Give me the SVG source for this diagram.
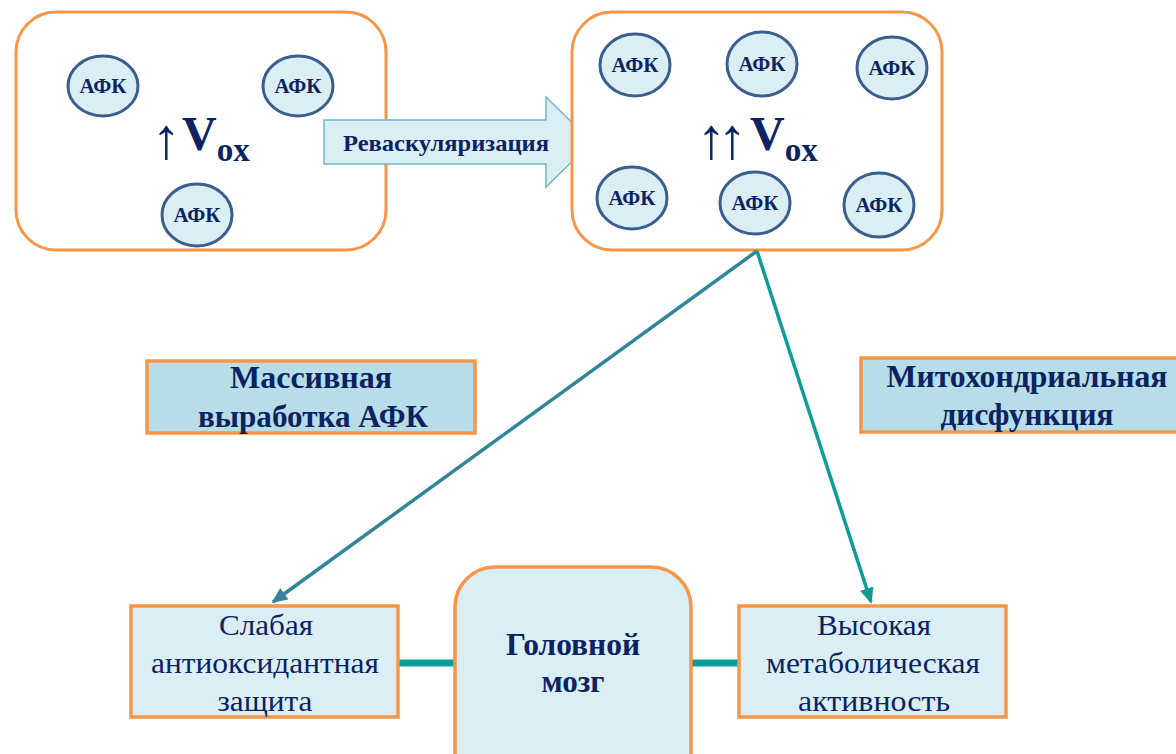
<svg xmlns="http://www.w3.org/2000/svg" width="1176" height="754" viewBox="0 0 1176 754">
<defs>
<style>
.big{fill:#fff;stroke:#F79646;stroke-width:3}
.afk ellipse{fill:#DBEEF4;stroke:#3A5F8E;stroke-width:3}
.afk text{font-family:"Liberation Serif","DejaVu Serif",serif;font-weight:bold;font-size:20px;fill:#0B2362;text-anchor:middle}
.t{font-family:"Liberation Serif","DejaVu Serif",serif;fill:#0B2362;text-anchor:middle}
.b{font-weight:bold}
.box{fill:#DBEEF4;stroke:#F79646;stroke-width:3.5}
.lbl{fill:#B7DDE8;stroke:#F79646;stroke-width:3.5}
.up{font-family:"Liberation Serif","DejaVu Serif",serif;fill:#0B2362;font-size:58px}
</style>
<marker id="ah1" markerWidth="4.5" markerHeight="4" refX="4" refY="2" orient="auto" markerUnits="strokeWidth">
<path d="M0,0 L4.5,2 L0,4 z" fill="#31849B"/>
</marker>
<marker id="ah2" markerWidth="4.5" markerHeight="4" refX="4" refY="2" orient="auto" markerUnits="strokeWidth">
<path d="M0,0 L4.5,2 L0,4 z" fill="#0E9C98"/>
</marker>
</defs>
<rect width="1176" height="754" fill="#fff"/>

<g id="left-box">
<rect class="big" x="16" y="12" width="370" height="238" rx="40"/>
<g class="afk"><ellipse cx="103" cy="86" rx="35" ry="30"/><text x="103" y="93" textLength="47" lengthAdjust="spacingAndGlyphs">АФК</text></g>
<g class="afk"><ellipse cx="298" cy="86" rx="35" ry="30"/><text x="298" y="93" textLength="47" lengthAdjust="spacingAndGlyphs">АФК</text></g>
<g class="afk"><ellipse cx="197" cy="215" rx="35" ry="31"/><text x="197" y="222" textLength="47" lengthAdjust="spacingAndGlyphs">АФК</text></g>
<text class="up" x="152" y="158">↑</text>
<text class="t b" x="182" y="150" style="text-anchor:start;font-size:48px">V<tspan dy="11" font-size="33">ox</tspan></text>
</g>

<g id="revasc">
<path d="M324,120 L546,120 L546,97 L592,142 L546,187 L546,164 L324,164 Z" fill="#DAEEF3" stroke="#6FB7C6" stroke-width="1.5"/>
<text class="t b" x="446" y="151" font-size="24" textLength="206" lengthAdjust="spacingAndGlyphs">Реваскуляризация</text>
</g>

<g id="right-box">
<rect class="big" x="572" y="12" width="370" height="238" rx="40"/>
<g class="afk"><ellipse cx="635" cy="65" rx="35" ry="31"/><text x="635" y="72" textLength="47" lengthAdjust="spacingAndGlyphs">АФК</text></g>
<g class="afk"><ellipse cx="762" cy="64" rx="35" ry="32"/><text x="762" y="71" textLength="47" lengthAdjust="spacingAndGlyphs">АФК</text></g>
<g class="afk"><ellipse cx="892" cy="68" rx="35" ry="31"/><text x="892" y="75" textLength="47" lengthAdjust="spacingAndGlyphs">АФК</text></g>
<g class="afk"><ellipse cx="632" cy="198" rx="35" ry="31"/><text x="632" y="205" textLength="47" lengthAdjust="spacingAndGlyphs">АФК</text></g>
<g class="afk"><ellipse cx="755" cy="203" rx="35" ry="31"/><text x="755" y="210" textLength="47" lengthAdjust="spacingAndGlyphs">АФК</text></g>
<g class="afk"><ellipse cx="879" cy="205" rx="35" ry="32"/><text x="879" y="212" textLength="47" lengthAdjust="spacingAndGlyphs">АФК</text></g>
<text class="up" x="697" y="158" textLength="50" lengthAdjust="spacing">↑↑</text>
<text class="t b" x="750" y="150" style="text-anchor:start;font-size:48px">V<tspan dy="11" font-size="33">ox</tspan></text>
</g>

<g id="massive">
<rect class="lbl" x="147" y="361" width="328" height="72"/>
<text class="t b" x="311" y="388" font-size="31" textLength="162" lengthAdjust="spacingAndGlyphs">Массивная</text>
<text class="t b" x="313" y="427" font-size="31" textLength="230" lengthAdjust="spacingAndGlyphs">выработка АФК</text>
</g>

<g id="mito">
<rect class="lbl" x="861" y="358" width="334" height="74"/>
<text class="t b" x="1027" y="387" font-size="31" textLength="281" lengthAdjust="spacingAndGlyphs">Митохондриальная</text>
<text class="t b" x="1027" y="425" font-size="31" textLength="173" lengthAdjust="spacingAndGlyphs">дисфункция</text>
</g>

<g id="connectors">
<line x1="398" y1="663" x2="455" y2="663" stroke="#0E9C98" stroke-width="7"/>
<line x1="691" y1="663" x2="739" y2="663" stroke="#0E9C98" stroke-width="7"/>
<line x1="757" y1="251" x2="273" y2="602" stroke="#31849B" stroke-width="3.5" marker-end="url(#ah1)"/>
<line x1="757" y1="251" x2="871" y2="602" stroke="#0E9C98" stroke-width="3.5" marker-end="url(#ah2)"/>
</g>

<g id="weak">
<rect class="box" x="131" y="606" width="267" height="111"/>
<text class="t" x="266" y="635" font-size="30" textLength="94" lengthAdjust="spacingAndGlyphs">Слабая</text>
<text class="t" x="265" y="673" font-size="30" textLength="228" lengthAdjust="spacingAndGlyphs">антиоксидантная</text>
<text class="t" x="265" y="711" font-size="30" textLength="95" lengthAdjust="spacingAndGlyphs">защита</text>
</g>

<g id="brain">
<rect class="box" x="455" y="567" width="236" height="230" rx="40"/>
<text class="t b" x="573" y="655" font-size="32" textLength="134" lengthAdjust="spacingAndGlyphs">Головной</text>
<text class="t b" x="573" y="692" font-size="32" textLength="63" lengthAdjust="spacingAndGlyphs">мозг</text>
</g>

<g id="high">
<rect class="box" x="739" y="606" width="267" height="111"/>
<text class="t" x="874" y="635" font-size="30" textLength="114" lengthAdjust="spacingAndGlyphs">Высокая</text>
<text class="t" x="873" y="673" font-size="30" textLength="214" lengthAdjust="spacingAndGlyphs">метаболическая</text>
<text class="t" x="874" y="711" font-size="30" textLength="152" lengthAdjust="spacingAndGlyphs">активность</text>
</g>
</svg>
